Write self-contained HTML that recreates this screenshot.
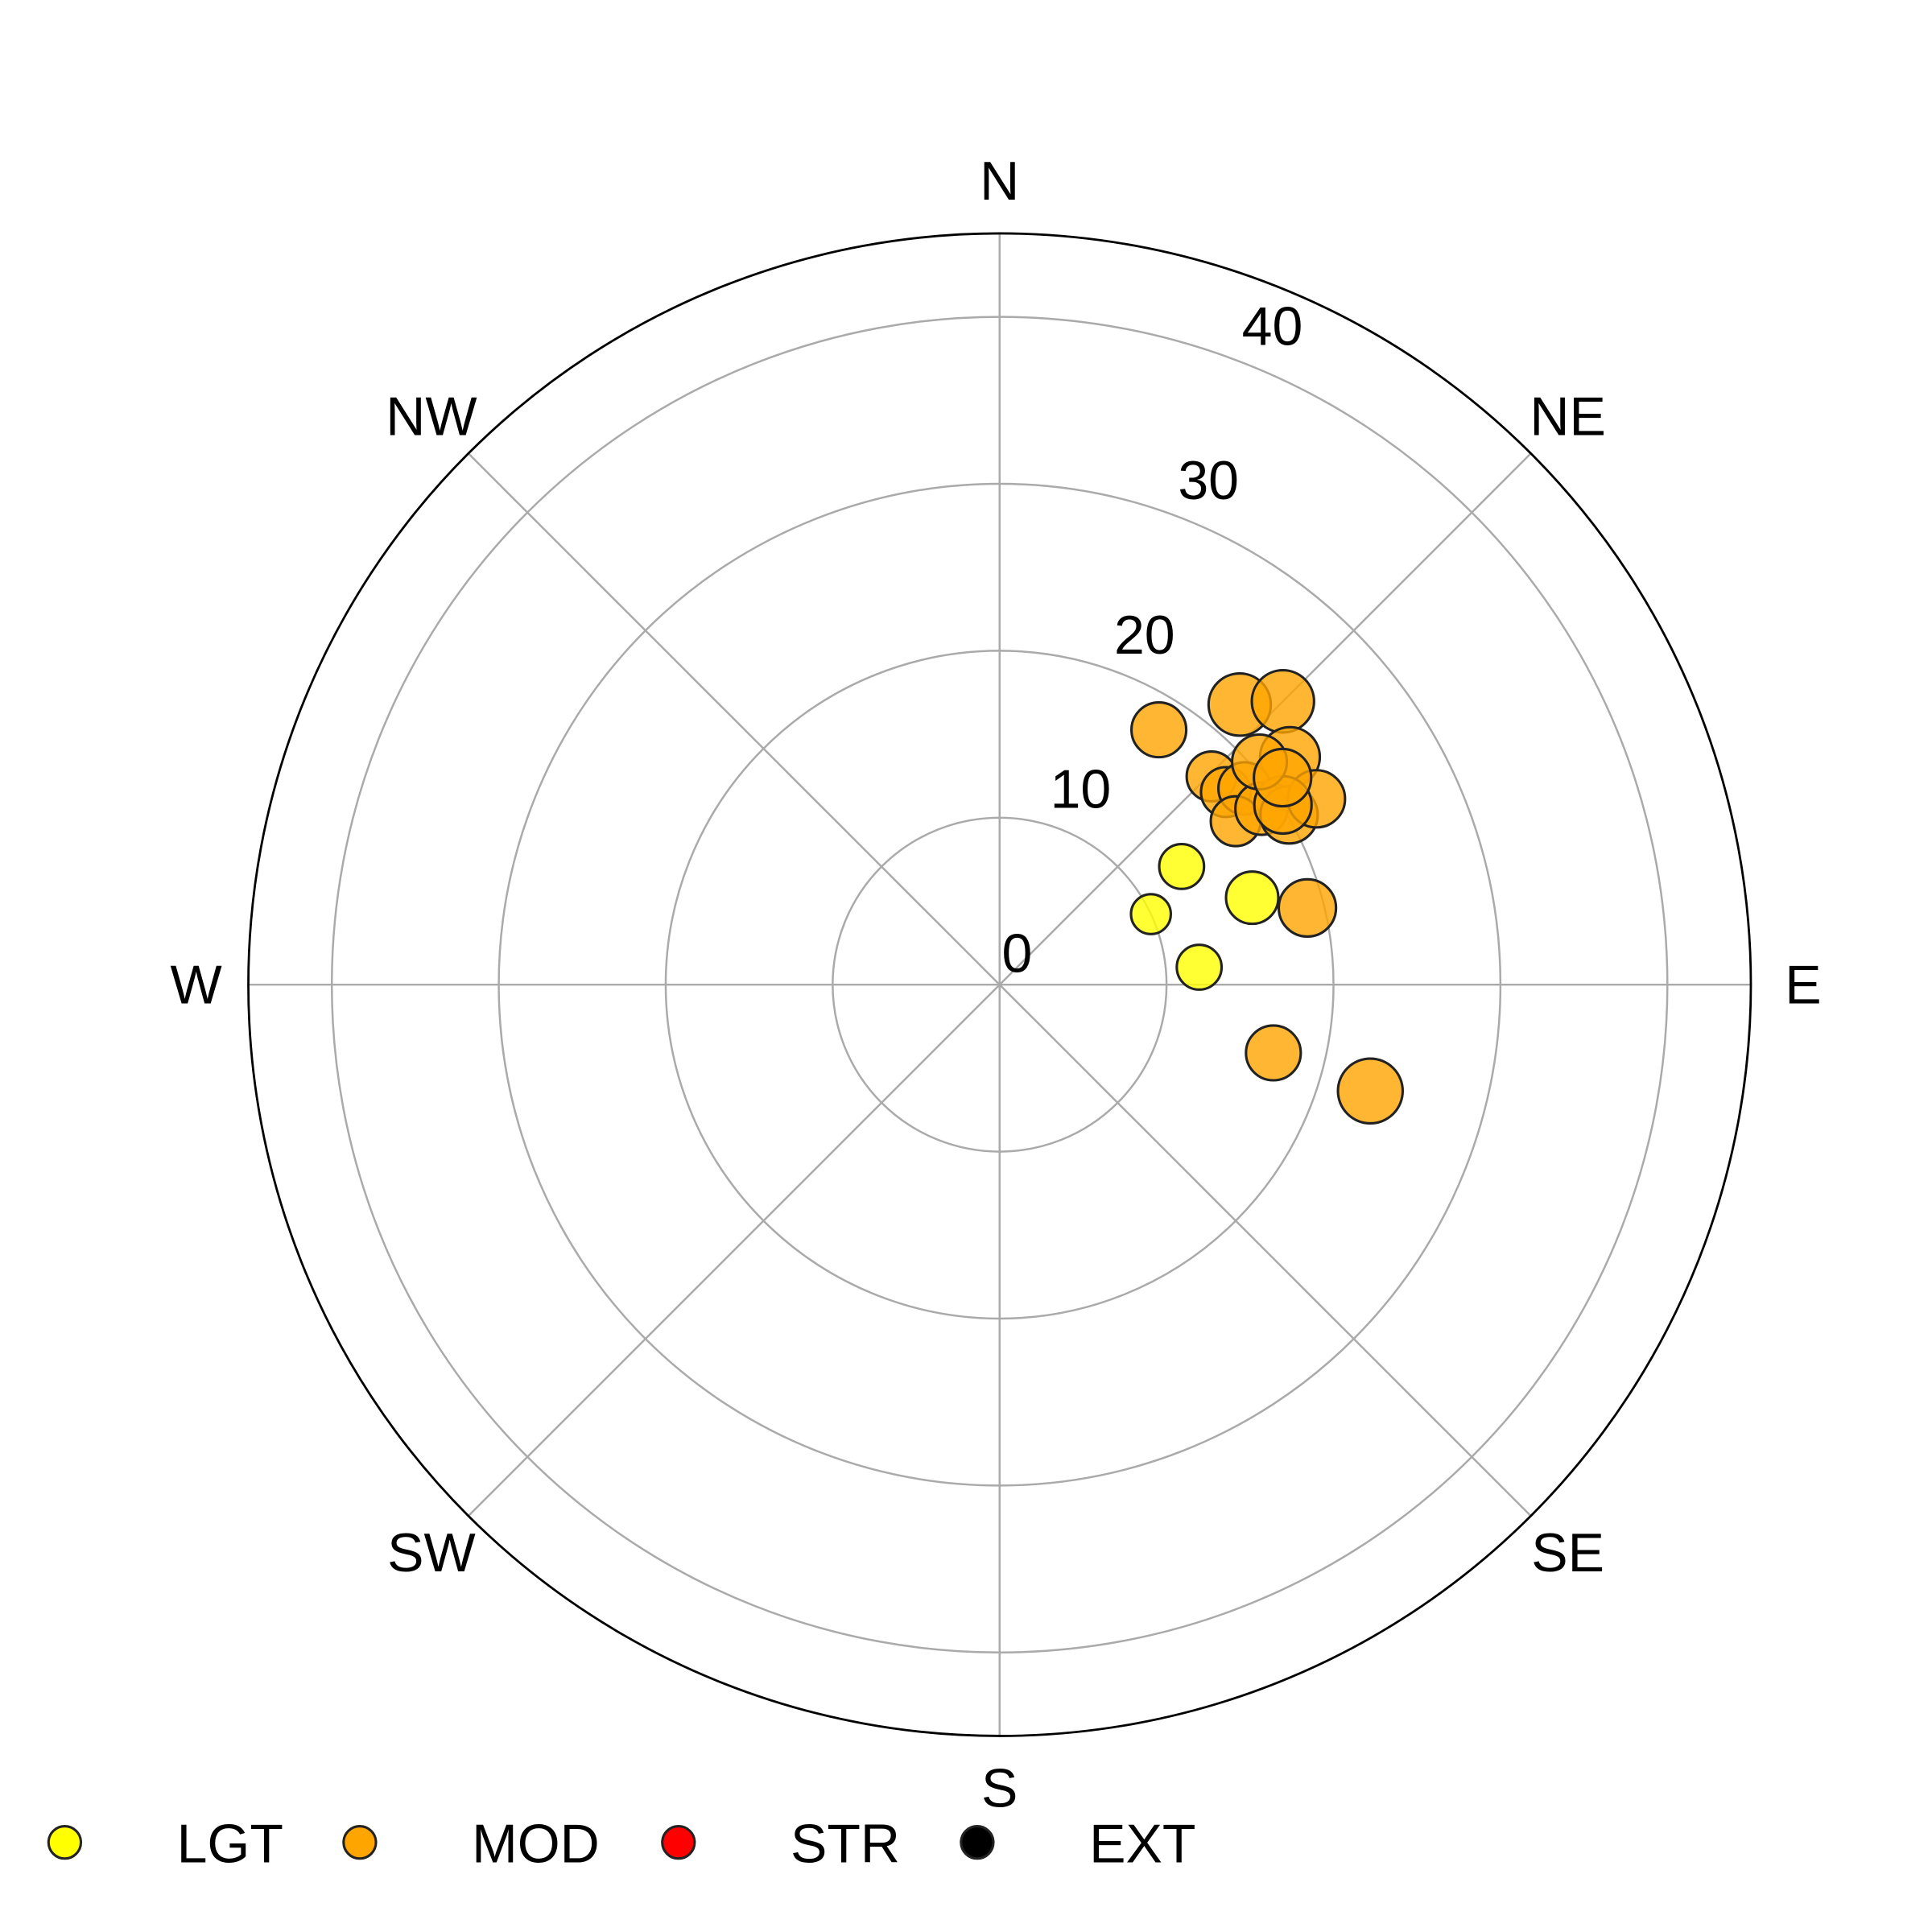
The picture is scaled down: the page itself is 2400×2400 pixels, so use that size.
<!DOCTYPE html>
<html><head><meta charset="utf-8"><style>
html,body{margin:0;padding:0;background:#fff;}
svg{display:block;font-family:"Liberation Sans",sans-serif;}
</style></head><body>
<svg id="chart" width="2400" height="2400" viewBox="0 0 1552 1552" xmlns="http://www.w3.org/2000/svg"></svg>
<script>
const directions=[57,65,85,71,76,104,106,32,40.6,45,51.9,45.5,49.6,51.3,55.3,56.1,59.6,59.6,57.6,49.4,53.8];
const speeds=[13,10,12,16,19,16.9,23.1,18,22.1,24,22.1,17.8,17.8,18.8,17.2,18.9,20.1,22,20.1,20.5,21];
const categories=["LGT","LGT","LGT","LGT","MOD","MOD","MOD","MOD","MOD","MOD","MOD","MOD","MOD","MOD","MOD","MOD","MOD","MOD","MOD","MOD","MOD"];
const sizes=[18,16,18,21,23,22,26,22,25,25,24,20,20,21,20,21,23,23,23,22,23];
const ringTicks=[0,10,20,30,40];
const compassLabels=["N","NE","E","SE","S","SW","W","NW"];
const legendLabels=["LGT","MOD","STR","EXT"];
const legendColors=["#ffff00","#ffa500","#ff0000","#000000"];

const NS="http://www.w3.org/2000/svg";
const svg=document.getElementById("chart");
const cx=803,cy=791,R=603.5,rMax=45;
const rs=v=>v/rMax*R;
const px=(th,v)=>cx+rs(v)*Math.sin(th*Math.PI/180);
const py=(th,v)=>cy-rs(v)*Math.cos(th*Math.PI/180);
function mk(tag,attrs,parent){const e=document.createElementNS(NS,tag);for(const k in attrs)e.setAttribute(k,attrs[k]);(parent||svg).appendChild(e);return e;}

const grid=mk("g",{});


ringTicks.slice(1).forEach(t=>{
  const c=mk("circle",{cx:cx,cy:cy,r:rs(t),fill:"none",stroke:"#aaa","stroke-width":1.6},grid);
  
  
});
for(let i=0;i<8;i++){
  const a=i*45;
  const l=mk("line",{x1:cx,y1:cy,x2:px(a,rMax),y2:py(a,rMax),stroke:"#aaa","stroke-width":1.6},grid);
  
  
}
const outer=mk("circle",{cx:cx,cy:cy,r:R,fill:"none",stroke:"#000","stroke-width":1.8});



compassLabels.forEach((s,i)=>{
  const a=i*45,d=R+42;
  const t=mk("text",{x:cx+d*Math.sin(a*Math.PI/180),y:cy-d*Math.cos(a*Math.PI/180)+15,"text-anchor":"middle","font-size":44});
  t.textContent=s;
  
  
});
ringTicks.forEach(v=>{
  const a=22.5,d=rs(v)+36;
  let x=cx+d*Math.sin(a*Math.PI/180),y=cy-d*Math.cos(a*Math.PI/180);
  if(v===0){x=817;y=766;}
  const t=mk("text",{x:x,y:y+15,"text-anchor":"middle","font-size":44});
  t.textContent=v;
  
  
});

const pts=mk("g",{});


speeds.forEach((v,i)=>{
  const col=categories[i]==="LGT"?"#ffff00":"#ffa500";
  const c=mk("circle",{cx:px(directions[i],v),cy:py(directions[i],v),r:sizes[i],fill:col,"fill-opacity":0.8,stroke:"#222","stroke-width":2},pts);
  
  
});

const lg=mk("g",{});


legendLabels.forEach((s,i)=>{
  const x0=[52,289,545,785][i];
  const c=mk("circle",{cx:x0,cy:1480,r:13,fill:legendColors[i],stroke:"#222","stroke-width":2},lg);
  
  
  const t=mk("text",{x:x0+90,y:1496,"font-size":44},lg);
  t.textContent=s;
  
  
});
</script>
</body></html>
